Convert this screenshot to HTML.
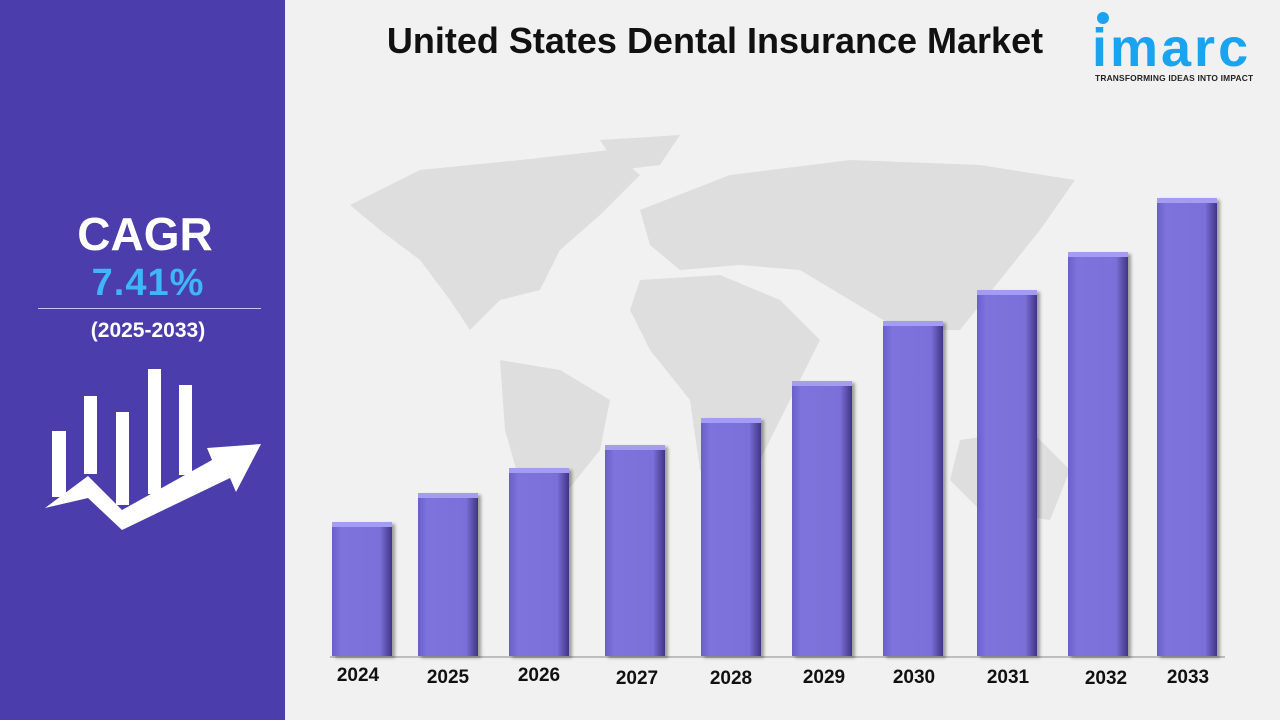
<!DOCTYPE html>
<html><head><meta charset="utf-8"><style>
body{margin:0;width:1280px;height:720px;background:#f1f1f1;font-family:"Liberation Sans",sans-serif;position:relative;overflow:hidden}
.left{position:absolute;left:0;top:0;width:285px;height:720px;background:#4b3dab}
.t{position:absolute;text-align:center;font-weight:bold}
.bar{position:absolute;width:60px;background:linear-gradient(90deg,#6a5ec8 0%,#7e73dc 15%,#7b70d9 80%,#3f3585 100%);box-shadow:3px 2px 3px rgba(0,0,0,.35)}
.bar::before{content:"";position:absolute;left:0;right:0;top:0;height:5px;background:#a49cf0}
.lab{position:absolute;width:80px;text-align:center;font-family:"Liberation Sans",sans-serif;font-weight:bold;font-size:19px;color:#111}
</style></head><body>
<svg style="position:absolute;left:0;top:0" width="1280" height="720">
<g fill="#dedede">
<path d="M350 205 L420 170 L520 160 L610 150 L640 175 L600 215 L560 250 L540 290 L500 300 L470 330 L450 300 L420 260 L380 230Z"/>
<path d="M600 140 L680 135 L660 165 L620 170Z"/>
<path d="M500 360 L560 370 L610 400 L600 450 L560 500 L540 560 L525 500 L505 430Z"/>
<path d="M640 210 L730 175 L850 160 L980 165 L1075 180 L1040 230 L1000 280 L960 330 L900 330 L850 300 L800 270 L740 265 L680 270 L650 245Z"/>
<path d="M640 280 L720 275 L780 300 L820 340 L790 400 L760 460 L730 500 L700 470 L690 400 L650 350 L630 310Z"/>
<path d="M960 440 L1030 430 L1070 470 L1050 520 L980 510 L950 480Z"/>
</g>
</svg>
<div class="left"></div>
<div class="t" style="left:0;width:290px;top:207px;font-size:46px;color:#fff">CAGR</div>
<div class="t" style="left:0;width:296px;top:262px;font-size:38px;color:#3fb6f5;letter-spacing:1px">7.41%</div>
<div style="position:absolute;left:38px;top:308px;width:223px;height:1px;background:#c9c3f0"></div>
<div class="t" style="left:0;width:296px;top:319px;font-size:21px;color:#fff">(2025-2033)</div>
<svg style="position:absolute;left:0;top:0" width="290" height="720">
<g fill="#fff">
<rect x="52" y="431" width="14" height="66"/><rect x="84" y="396" width="13" height="78"/>
<rect x="116" y="412" width="13" height="93"/><rect x="148" y="369" width="13" height="125"/>
<rect x="179" y="385" width="13" height="90"/>
<path d="M45 508 L88 476 L122 510 L212 460 L207 448 L261 444 L236 492 L230 478 L122 530 L88 498Z"/>
</g></svg>
<div class="t" style="left:300px;width:830px;top:20px;font-size:36px;color:#111">United States Dental Insurance Market</div>
<div style="position:absolute;left:1097px;top:12px;width:12px;height:12px;border-radius:50%;background:#1aa3ee"></div>
<div style="position:absolute;left:1092px;top:20px;font-size:54px;color:#1aa3ee;font-weight:bold;letter-spacing:3px;line-height:56px">imarc</div>
<div style="position:absolute;left:1095px;top:73px;font-size:8.4px;font-weight:bold;color:#222;letter-spacing:.2px">TRANSFORMING IDEAS INTO IMPACT</div>
<div style="position:absolute;left:330px;top:656px;width:895px;height:2px;background:#bdbdbd"></div>
<div class="bar" style="left:332px;top:522px;height:134px"></div>
<div class="bar" style="left:418px;top:493px;height:163px"></div>
<div class="bar" style="left:509px;top:468px;height:188px"></div>
<div class="bar" style="left:605px;top:445px;height:211px"></div>
<div class="bar" style="left:701px;top:418px;height:238px"></div>
<div class="bar" style="left:792px;top:381px;height:275px"></div>
<div class="bar" style="left:883px;top:321px;height:335px"></div>
<div class="bar" style="left:977px;top:290px;height:366px"></div>
<div class="bar" style="left:1068px;top:252px;height:404px"></div>
<div class="bar" style="left:1157px;top:198px;height:458px"></div>
<div class="lab" style="left:318px;top:665px">2024</div>
<div class="lab" style="left:408px;top:667px">2025</div>
<div class="lab" style="left:499px;top:665px">2026</div>
<div class="lab" style="left:597px;top:668px">2027</div>
<div class="lab" style="left:691px;top:668px">2028</div>
<div class="lab" style="left:784px;top:667px">2029</div>
<div class="lab" style="left:874px;top:667px">2030</div>
<div class="lab" style="left:968px;top:667px">2031</div>
<div class="lab" style="left:1066px;top:668px">2032</div>
<div class="lab" style="left:1148px;top:667px">2033</div>
</body></html>
